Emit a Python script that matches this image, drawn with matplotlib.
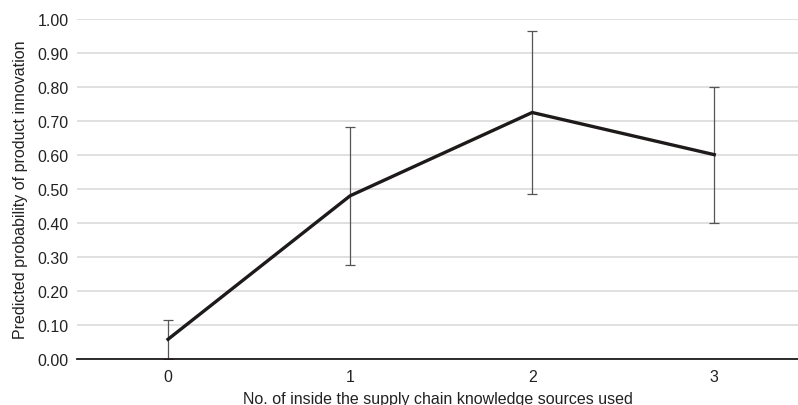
import matplotlib
matplotlib.use("Agg")
import matplotlib.pyplot as plt
import numpy as np

plt.rcParams["font.family"] = ["Liberation Sans", "DejaVu Sans"]

# Predicted probabilities by number of sources used
sources = [0, 1, 2, 3]
prob = [0.058, 0.480, 0.725, 0.601]
err = [0.058, 0.203, 0.241, 0.200]
yticks = np.arange(0, 1.01, 0.1)

fig = plt.figure(figsize=(7.98, 4.06), dpi=100)
ax = fig.add_axes([77 / 798, 1 - 360 / 406, 1 - 77 / 798, 340 / 406])

ax.errorbar(sources, prob, yerr=err, fmt="none", ecolor="#555555",
            elinewidth=0.9, capsize=3.3, capthick=0.9, zorder=3)
ax.plot(sources, prob, color="#1e1a1a", lw=2.4, solid_joinstyle="miter", zorder=4)

ax.set_xlim(-0.5, 3.46)
ax.set_ylim(0, 1.0)
ax.set_yticks(yticks)
ax.set_yticklabels([f"{v:.2f}" for v in yticks])
ax.set_xticks(sources)
ax.grid(axis="y", color="#dddddd", lw=1.3)
ax.set_axisbelow(True)
for s in ["top", "right", "left"]:
    ax.spines[s].set_visible(False)
ax.spines["bottom"].set_color("#1e1a1a")
ax.spines["bottom"].set_linewidth(1.3)
ax.spines["bottom"].set_zorder(5)
ax.tick_params(length=0, labelsize=11.5, colors="#222222")
ax.tick_params(axis="y", pad=6)
ax.tick_params(axis="x", pad=7)
ax.set_xlabel("No. of inside the supply chain knowledge sources used",
              fontsize=11.5, color="#222222", labelpad=5)
ax.set_ylabel("Predicted probability of product innovation",
              fontsize=11.5, color="#222222", labelpad=7)

fig.savefig("out.png", dpi=100)
